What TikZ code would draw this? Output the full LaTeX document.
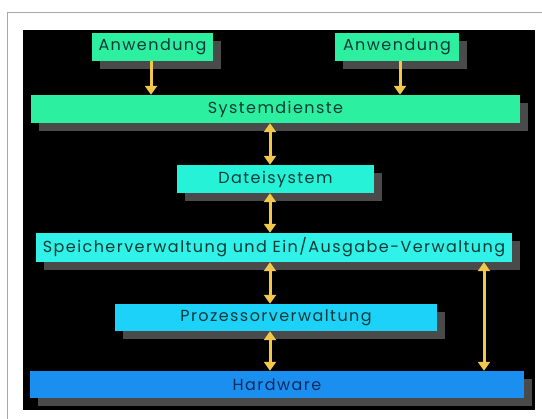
\documentclass[tikz,border=0pt]{standalone}
\usepackage{fontspec}
\setmainfont{Poppins}[LetterSpace=9]
\usetikzlibrary{positioning,shadows}
\usetikzlibrary{arrows.meta}
\definecolor{mint}{HTML}{2CF0A0}
\definecolor{aqua}{HTML}{26F2D8}
\definecolor{turq}{HTML}{30F2E8}
\definecolor{sky}{HTML}{1CD2F8}
\definecolor{hwblue}{HTML}{1A8FF0}
\definecolor{gold}{HTML}{F2C84A}
\definecolor{ink}{HTML}{0E3A36}
\definecolor{navy}{HTML}{0F2A5E}
\definecolor{shade}{HTML}{4A4A4A}
\definecolor{frame}{HTML}{A8A8A8}

\begin{document}
\begin{tikzpicture}[x=1pt, y=-1pt]
\tikzset{
    every node/.style = {font=\fontsize{16}{18}\selectfont, inner sep=0pt, text=ink},
    layer/.style = {rectangle, minimum height=28pt,
        drop shadow={shadow xshift=8pt, shadow yshift=-8pt, fill=shade, opacity=1}},
    call/.style = {draw=gold, line width=3pt, -{Triangle[width=12pt, length=9pt]}},
    link/.style = {draw=gold, line width=3pt,
        {Triangle[width=12pt, length=9pt]}-{Triangle[width=12pt, length=9pt]}}
}
\useasboundingbox (0,0) rectangle (542,419);

% -------------------------------------------------------
\draw[frame, line width=1pt] (7,419) -- (7,13) -- (542,13);
\fill[black] (23,30) rectangle (535,410);

\node[layer, fill=mint, minimum width=121pt] (app1) at (152.5,47) {Anwendung};
\node[layer, fill=mint, minimum width=124pt] (app2) at (397,47) {Anwendung};

\node[layer, fill=mint, minimum width=489pt] (sys) at (275.5,109) {Systemdienste};

\node[layer, fill=aqua, minimum width=197pt] (fs) at (275.5,179) {Dateisystem};

\node[layer, fill=turq, minimum width=476pt, minimum height=29pt] (mem) at (274,247.5)
    {Speicherverwaltung und Ein/Ausgabe-Verwaltung};

\node[layer, fill=sky, minimum width=322pt, minimum height=27pt] (proc) at (276,317.5)
    {Prozessorverwaltung};

\node[layer, fill=hwblue, minimum width=494pt, minimum height=27pt, text=navy] (hw) at (277,384.5)
    {Hardware};

\coordinate (mid) at (270,0);
\coordinate (side) at (484,0);

% -------------------------------------------------------
\path[call] ([xshift=-1.5pt]app1.south) -- ([xshift=-1.5pt]app1.south |- sys.north);
\path[call] ([xshift=3pt]app2.south) -- ([xshift=3pt]app2.south |- sys.north);

\path[link] (sys.south -| mid) -- (fs.north -| mid);
\path[link] (fs.south -| mid) -- (mem.north -| mid);
\path[link] (mem.south -| mid) -- (proc.north -| mid);
\path[link] (proc.south -| mid) -- (hw.north -| mid);
\path[link] (mem.south -| side) -- (hw.north -| side);
\end{tikzpicture}
\end{document}
